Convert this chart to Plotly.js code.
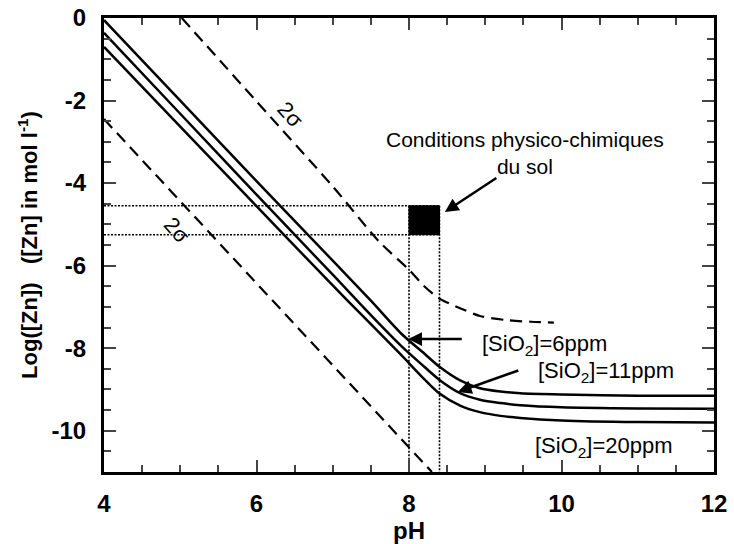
<!DOCTYPE html>
<html>
<head>
<meta charset="utf-8">
<script src="https://cdn.plot.ly/plotly-3.0.1.min.js"></script>
<style>html,body{margin:0;padding:0;background:#fff;}#chart{width:734px;height:544px;}</style>
</head>
<body>
<div id="chart"></div>
<script>
// pH values and log[Zn]
const phSolid = [4, 5, 6, 7, 7.5, 7.9, 8.2, 8.4, 8.67, 8.93, 9.2, 9.46, 10, 11, 12];
const zn6ppm  = [-0.05, -2.0, -3.95, -5.88, -6.85, -7.65, -8.13, -8.45, -8.78, -8.97, -9.05, -9.09, -9.12, -9.15, -9.15];
const zn11ppm = [-0.36, -2.32, -4.28, -6.22, -7.2, -7.95, -8.45, -8.77, -9.09, -9.25, -9.33, -9.38, -9.43, -9.46, -9.47];
const zn20ppm = [-0.7, -2.63, -4.56, -6.48, -7.42, -8.17, -8.75, -9.1, -9.39, -9.55, -9.64, -9.69, -9.75, -9.79, -9.8];

const phUpper2s = [5.02, 6, 7, 7.6, 8.0, 8.2, 8.4, 8.67, 8.93, 9.28, 9.6, 9.9];
const znUpper2s = [0, -2.02, -4.08, -5.4, -6.1, -6.5, -6.8, -7.03, -7.22, -7.32, -7.36, -7.38];
const phLower2s = [4, 6, 8.3];
const znLower2s = [-2.45, -6.42, -11];

// soil conditions box
const condPH = [8.0, 8.4];
const condZn = [-4.55, -5.25];
const xMin = 4, yMin = -11;

const solid = {color: '#000', width: 2.5, shape: 'spline', smoothing: 0.8};
const dashed = {color: '#000', width: 2.2, dash: '12px,7px'};
const dotted = {color: '#000', width: 1.6, dash: '2px,1.5px'};

const traces = [
  {x: phSolid, y: zn6ppm, mode: 'lines', line: solid},
  {x: phSolid, y: zn11ppm, mode: 'lines', line: solid},
  {x: phSolid, y: zn20ppm, mode: 'lines', line: solid},
  {x: phUpper2s, y: znUpper2s, mode: 'lines', line: Object.assign({shape: 'spline', smoothing: 0.8}, dashed)},
  {x: phLower2s, y: znLower2s, mode: 'lines', line: dashed},
  // dotted guides
  {x: [xMin, condPH[1]], y: [condZn[0], condZn[0]], mode: 'lines', line: dotted},
  {x: [xMin, condPH[1]], y: [condZn[1], condZn[1]], mode: 'lines', line: dotted},
  {x: [condPH[0], condPH[0]], y: [condZn[0], yMin], mode: 'lines', line: dotted},
  {x: [condPH[1], condPH[1]], y: [condZn[0], yMin], mode: 'lines', line: dotted},
  // filled box
  {x: [condPH[0], condPH[1], condPH[1], condPH[0], condPH[0]],
   y: [condZn[0], condZn[0], condZn[1], condZn[1], condZn[0]],
   mode: 'lines', fill: 'toself', fillcolor: '#000', line: {color: '#000', width: 1}}
];

const FAM = 'Liberation Sans, Arial, sans-serif';
const sioFont = {family: FAM, size: 22, color: '#000'};
const condFont = {family: FAM, size: 21, color: '#000'};
const arrow = {showarrow: true, text: '', arrowhead: 2, arrowsize: 1.1, arrowwidth: 2.5, arrowcolor: '#000', axref: 'pixel', ayref: 'pixel'};

const layout = {
  width: 734, height: 544,
  margin: {l: 104, r: 20, t: 18, b: 72},
  paper_bgcolor: '#fff', plot_bgcolor: '#fff',
  showlegend: false,
  font: {family: FAM, color: '#000'},
  xaxis: {
    range: [4, 12], tickvals: [4, 6, 8, 10, 12], ticks: 'inside', ticklen: 12, tickwidth: 2,
    minor: {dtick: 0.5, ticks: 'inside', ticklen: 7, tickwidth: 2, showgrid: false},
    showgrid: false, zeroline: false, showline: true, linewidth: 3, linecolor: '#000', mirror: 'allticks',
    tickfont: {size: 24, family: FAM, weight: 'bold'},
    ticklabelstandoff: 8,
    title: {text: '<b>pH</b>', font: {size: 24}, standoff: 2}
  },
  yaxis: {
    range: [-11, 0], tickvals: [0, -2, -4, -6, -8, -10], ticktext: ['0', '-2', '-4', '-6', '-8', '-10'],
    ticks: 'inside', ticklen: 12, tickwidth: 2,
    minor: {dtick: 0.5, ticks: 'inside', ticklen: 7, tickwidth: 2, showgrid: false},
    showgrid: false, zeroline: false, showline: true, linewidth: 3, linecolor: '#000', mirror: 'allticks',
    tickfont: {size: 24, family: FAM, weight: 'bold'},
    ticklabelstandoff: 10,
    title: {text: '<b>Log([Zn])   ([Zn] in mol l<sup>-1</sup>)</b>', font: {size: 22}, standoff: 8}
  },
  annotations: [
    {x: 9.78, y: -7.92, text: '[SiO<sub>2</sub>]=6ppm', font: sioFont, showarrow: false},
    Object.assign({x: 7.99, y: -7.78, ax: 55, ay: 0}, arrow),
    {x: 10.58, y: -8.58, text: '[SiO<sub>2</sub>]=11ppm', font: sioFont, showarrow: false},
    Object.assign({x: 8.64, y: -9.06, ax: 62, ay: -22}, arrow),
    {x: 10.56, y: -10.39, text: '[SiO<sub>2</sub>]=20ppm', font: sioFont, showarrow: false},
    {x: 9.52, y: -3.27, text: 'Conditions physico-chimiques<br>du sol', font: condFont, showarrow: false},
    Object.assign({x: 8.47, y: -4.7, ax: 53, ay: -35}, arrow),
    {x: 6.44, y: -2.35, text: '2σ', font: {family: FAM, size: 22, color: '#000'}, textangle: 48, showarrow: false},
    {x: 4.96, y: -5.14, text: '2σ', font: {family: FAM, size: 22, color: '#000'}, textangle: 48, showarrow: false}
  ]
};

Plotly.newPlot('chart', traces, layout, {staticPlot: true, displayModeBar: false});
</script>
</body>
</html>
